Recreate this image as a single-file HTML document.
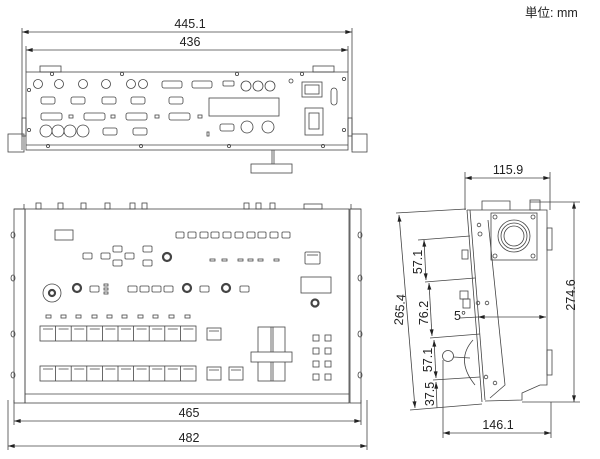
<!DOCTYPE html>
<html><head><meta charset="utf-8"><style>
html,body{margin:0;padding:0;background:#fff;width:600px;height:459px;overflow:hidden}
svg{display:block}
text{font-family:"Liberation Sans","Noto Sans CJK JP",sans-serif;fill:#222}
</style></head><body>
<svg width="600" height="459" viewBox="0 0 600 459" xmlns="http://www.w3.org/2000/svg">
<defs>
<marker id="a" viewBox="0 0 10 6" refX="10" refY="3" markerWidth="9" markerHeight="5" orient="auto-start-reverse"><path d="M0,0L10,3L0,6z" fill="#222"/></marker>
</defs>
<text x="525" y="17" font-size="12.5">単位: mm</text>

<g stroke="#444" stroke-width="0.8" fill="none">
<!-- TOP: rear view -->
<line x1="22" y1="28" x2="22" y2="150"/><line x1="352" y1="28" x2="352" y2="150"/>
<line x1="26" y1="46" x2="26" y2="72"/><line x1="348" y1="46" x2="348" y2="72"/>
<line x1="22" y1="32" x2="352" y2="32" marker-start="url(#a)" marker-end="url(#a)"/>
<line x1="26" y1="50" x2="348" y2="50" marker-start="url(#a)" marker-end="url(#a)"/>
<rect x="26" y="72" width="322" height="78"/>
<line x1="26" y1="145" x2="348" y2="145"/>
<rect x="40" y="66" width="21" height="6"/><rect x="313" y="66" width="21" height="6"/>
<rect x="8" y="134" width="16" height="18"/><rect x="352" y="134" width="15" height="18"/>
<rect x="22" y="118" width="4" height="18"/><rect x="348" y="118" width="4" height="18"/>
<line x1="272" y1="150" x2="272" y2="164"/><line x1="274" y1="150" x2="274" y2="164"/>
<rect x="251" y="164" width="41" height="9"/>
<g>
<circle cx="52" cy="74" r="1.6"/><circle cx="122" cy="74" r="1.6"/><circle cx="237" cy="74" r="1.6"/><circle cx="302" cy="74" r="1.6"/>
<circle cx="48" cy="146" r="1.6"/><circle cx="141" cy="146" r="1.6"/><circle cx="229" cy="146" r="1.6"/><circle cx="323" cy="146" r="1.6"/>
<circle cx="29" cy="90" r="1.6"/><circle cx="29" cy="130" r="1.6"/><circle cx="344" cy="79" r="1.6"/><circle cx="344" cy="130" r="1.6"/><circle cx="291" cy="81" r="2"/>
</g>
<g>
<circle cx="38" cy="84" r="4.5"/><circle cx="59" cy="84" r="4.5"/><circle cx="83" cy="84" r="4.5"/><circle cx="106" cy="84" r="4.5"/><circle cx="131" cy="84" r="4.5"/><circle cx="143" cy="84" r="4.5"/>
<circle cx="246" cy="86" r="5"/><circle cx="258" cy="86" r="5"/><circle cx="270" cy="86" r="5"/>
<circle cx="46" cy="131" r="6"/><circle cx="58" cy="131" r="6"/><circle cx="70" cy="131" r="6"/><circle cx="83" cy="131" r="6"/>
<circle cx="247" cy="127" r="6"/><circle cx="268" cy="127" r="6"/>
</g>
<g>
<rect x="162" y="81" width="20" height="7" rx="2"/><rect x="192" y="81" width="20" height="7" rx="2"/><rect x="223" y="81" width="11" height="5" rx="1"/>
<rect x="41" y="97" width="14" height="7" rx="2"/><rect x="71" y="97" width="14" height="7" rx="2"/><rect x="102" y="97" width="14" height="7" rx="2"/><rect x="131" y="97" width="14" height="7" rx="2"/><rect x="169" y="97" width="14" height="7" rx="2"/>
<rect x="41" y="113" width="21" height="7" rx="2"/><rect x="84" y="113" width="21" height="7" rx="2"/><rect x="126" y="113" width="21" height="7" rx="2"/><rect x="169" y="113" width="21" height="7" rx="2"/>
<rect x="69" y="115" width="4" height="3"/><rect x="111" y="115" width="4" height="3"/><rect x="155" y="115" width="4" height="3"/><rect x="198" y="115" width="4" height="3"/>
<rect x="103" y="128" width="14" height="7" rx="2"/><rect x="133" y="128" width="14" height="7" rx="2"/><rect x="220" y="124" width="14" height="7" rx="2"/>
<rect x="209" y="98" width="70" height="18"/>
<rect x="302" y="82" width="20" height="15"/><rect x="305" y="85" width="14" height="9"/>
<rect x="331" y="88" width="6" height="17" rx="3"/>
<rect x="305" y="108" width="18" height="27"/><rect x="309" y="113" width="10" height="16"/>
<rect x="207" y="132" width="2" height="4"/>
</g>

<!-- FRONT: top view -->
<line x1="8" y1="400" x2="8" y2="450"/><line x1="367" y1="400" x2="367" y2="450"/>
<line x1="14" y1="400" x2="14" y2="425"/><line x1="361" y1="400" x2="361" y2="425"/>
<line x1="14" y1="421" x2="361" y2="421" marker-start="url(#a)" marker-end="url(#a)"/>
<line x1="8" y1="446" x2="367" y2="446" marker-start="url(#a)" marker-end="url(#a)"/>
<rect x="25" y="209" width="324" height="194"/>
<line x1="25" y1="394" x2="349" y2="394"/>
<rect x="14" y="209" width="11" height="194"/><rect x="350" y="209" width="11" height="194"/>
<path d="M14,209 L24,209 L24,204"/><path d="M361,209 L351,209 L351,204"/>
<g>
<ellipse cx="13" cy="235" rx="2" ry="3"/><ellipse cx="13" cy="278" rx="2" ry="3"/><ellipse cx="13" cy="334" rx="2" ry="3"/><ellipse cx="13" cy="375" rx="2" ry="3"/>
<ellipse cx="360" cy="235" rx="2" ry="3"/><ellipse cx="360" cy="278" rx="2" ry="3"/><ellipse cx="360" cy="334" rx="2" ry="3"/><ellipse cx="360" cy="375" rx="2" ry="3"/>
</g>
<g>
<rect x="36" y="203" width="5" height="6"/><rect x="58" y="203" width="5" height="6"/><rect x="81" y="203" width="5" height="6"/><rect x="105" y="203" width="5" height="6"/><rect x="130" y="203" width="5" height="6"/><rect x="142" y="203" width="5" height="6"/>
<rect x="244" y="203" width="5" height="6"/><rect x="256" y="203" width="5" height="6"/><rect x="270" y="203" width="5" height="6"/><rect x="304" y="204" width="18" height="5"/>
</g>
<rect x="55" y="230" width="18" height="10"/>
<g>
<rect x="176" y="232" width="8" height="6" rx="1"/><rect x="188" y="232" width="8" height="6" rx="1"/><rect x="200" y="232" width="8" height="6" rx="1"/><rect x="211" y="232" width="8" height="6" rx="1"/><rect x="223" y="232" width="8" height="6" rx="1"/><rect x="235" y="232" width="8" height="6" rx="1"/><rect x="247" y="232" width="8" height="6" rx="1"/><rect x="258" y="232" width="8" height="6" rx="1"/><rect x="270" y="232" width="8" height="6" rx="1"/><rect x="282" y="232" width="8" height="6" rx="1"/>
<rect x="83" y="253" width="9" height="6" rx="1"/><rect x="101" y="253" width="9" height="6" rx="1"/><rect x="113" y="246" width="9" height="6" rx="1"/><rect x="113" y="260" width="9" height="6" rx="1"/><rect x="125" y="253" width="9" height="6" rx="1"/><rect x="143" y="246" width="9" height="6" rx="1"/><rect x="143" y="260" width="9" height="6" rx="1"/>
<rect x="90" y="286" width="9" height="6" rx="1"/><rect x="128" y="286" width="9" height="6" rx="1"/><rect x="140" y="286" width="9" height="6" rx="1"/><rect x="152" y="286" width="9" height="6" rx="1"/><rect x="164" y="286" width="9" height="6" rx="1"/><rect x="200" y="286" width="9" height="6" rx="1"/><rect x="240" y="286" width="9" height="6" rx="1"/>
<rect x="104" y="284" width="4" height="2"/><rect x="104" y="288" width="4" height="2"/><rect x="104" y="292" width="4" height="2"/>
<rect x="210" y="259" width="5" height="2"/><rect x="222" y="259" width="5" height="2"/><rect x="238" y="259" width="5" height="2"/><rect x="248" y="259" width="5" height="2"/><rect x="258" y="259" width="5" height="2"/><rect x="274" y="259" width="5" height="2"/>
<rect x="46" y="315" width="5" height="3"/><rect x="61" y="315" width="5" height="3"/><rect x="76" y="315" width="5" height="3"/><rect x="92" y="315" width="5" height="3"/><rect x="107" y="315" width="5" height="3"/><rect x="122" y="315" width="5" height="3"/><rect x="138" y="315" width="5" height="3"/><rect x="153" y="315" width="5" height="3"/><rect x="169" y="315" width="5" height="3"/><rect x="185" y="315" width="5" height="3"/>
<rect x="305" y="252" width="15" height="12" rx="1"/><line x1="307" y1="255" x2="318" y2="255"/>
<rect x="301" y="277" width="30" height="16"/>
</g>
<g stroke-width="2.2">
<circle cx="167" cy="257" r="4"/><circle cx="77" cy="288" r="4"/><circle cx="187" cy="288" r="4"/><circle cx="226" cy="288" r="4"/><circle cx="315" cy="303" r="3.5"/><circle cx="52" cy="293" r="3"/>
</g>
<circle cx="52" cy="293" r="9"/>
<!-- keys -->
<g>
<rect x="40" y="326" width="156" height="15"/><rect x="40" y="366" width="156" height="15"/>
<path d="M55.6,326v15M71.2,326v15M86.8,326v15M102.4,326v15M118,326v15M133.6,326v15M149.2,326v15M164.8,326v15M180.4,326v15"/>
<path d="M55.6,366v15M71.2,366v15M86.8,366v15M102.4,366v15M118,366v15M133.6,366v15M149.2,366v15M164.8,366v15M180.4,366v15"/>
<path d="M43,329h10M58.6,329h10M74.2,329h10M89.8,329h10M105.4,329h10M121,329h10M136.6,329h10M152.2,329h10M167.8,329h10M183.4,329h10"/>
<path d="M43,369h10M58.6,369h10M74.2,369h10M89.8,369h10M105.4,369h10M121,369h10M136.6,369h10M152.2,369h10M167.8,369h10M183.4,369h10"/>
<rect x="207" y="328" width="14" height="12"/><rect x="207" y="367" width="14" height="13"/><rect x="229" y="367" width="14" height="13"/>
<path d="M209,331h10M209,370h10M231,370h10"/>
<rect x="258" y="327" width="27" height="54"/><line x1="271" y1="327" x2="271" y2="381"/><line x1="273" y1="327" x2="273" y2="381"/>
<rect x="251" y="352" width="41" height="10" fill="#fff"/>
<rect x="313" y="335" width="6" height="6"/><rect x="325" y="335" width="6" height="6"/><rect x="313" y="348" width="6" height="6"/><rect x="325" y="348" width="6" height="6"/><rect x="313" y="361" width="6" height="6"/><rect x="325" y="361" width="6" height="6"/><rect x="313" y="374" width="6" height="6"/><rect x="325" y="374" width="6" height="6"/>
</g>

<!-- SIDE -->
<line x1="465" y1="172" x2="465" y2="210"/><line x1="550" y1="172" x2="550" y2="210"/>
<line x1="465" y1="178" x2="550" y2="178" marker-start="url(#a)" marker-end="url(#a)"/>
<line x1="530" y1="202" x2="580" y2="202"/><line x1="522" y1="402" x2="580" y2="402"/>
<line x1="574" y1="202" x2="574" y2="402" marker-start="url(#a)" marker-end="url(#a)"/>
<line x1="443" y1="360" x2="443" y2="438"/><line x1="551" y1="402" x2="551" y2="438"/>
<line x1="443" y1="433" x2="551" y2="433" marker-start="url(#a)" marker-end="url(#a)"/>
<line x1="396" y1="213" x2="466" y2="209"/><line x1="410" y1="410" x2="482" y2="404"/>
<line x1="399" y1="215" x2="415" y2="408" marker-start="url(#a)" marker-end="url(#a)"/>
<line x1="418" y1="240" x2="470" y2="236"/><line x1="425" y1="282" x2="475" y2="278"/>
<line x1="430" y1="338" x2="480" y2="334"/><line x1="433" y1="380" x2="480" y2="377"/>
<line x1="424" y1="240" x2="426" y2="280" marker-start="url(#a)" marker-end="url(#a)"/>
<line x1="429" y1="283" x2="432" y2="336" marker-start="url(#a)" marker-end="url(#a)"/>
<line x1="434" y1="340" x2="436" y2="378" marker-start="url(#a)" marker-end="url(#a)"/>
<line x1="436" y1="382" x2="437" y2="408" marker-start="url(#a)"/>
<line x1="460" y1="318" x2="478" y2="317"/>
<line x1="478" y1="317" x2="546" y2="317" marker-start="url(#a)" marker-end="url(#a)"/>
<!-- panel -->
<path d="M467,210 L482,402"/><path d="M470,210 L485,400"/>
<path d="M467,210 L547,210 L547,385 L540,385 L522,393 L522,400 L485,401"/>
<path d="M488,220 L505,385 L490,398"/>
<path d="M482,210 L482,201 L510,201 L510,210"/><rect x="530" y="200" width="10" height="10"/>
<rect x="547" y="228" width="5" height="22"/><rect x="547" y="350" width="5" height="25"/>
<rect x="491" y="213" width="46" height="47"/>
<circle cx="514" cy="236" r="16"/><circle cx="514" cy="236" r="13"/><circle cx="514" cy="236" r="10"/>
<circle cx="495" cy="217" r="2"/><circle cx="533" cy="217" r="2"/><circle cx="495" cy="256" r="2"/><circle cx="533" cy="256" r="2"/>
<circle cx="480" cy="234" r="2"/><circle cx="479" cy="225" r="1.8"/><circle cx="478" cy="303" r="1.8"/><circle cx="487" cy="303" r="1.8"/><circle cx="486" cy="377" r="1.8"/><circle cx="495" cy="383" r="1.8"/>
<rect x="462" y="250" width="6" height="9"/><rect x="460" y="291" width="8" height="8"/><rect x="463" y="299" width="7" height="9"/>
<path d="M473,340 Q455,360 475,385"/>
<circle cx="448" cy="356" r="5.5"/><line x1="453" y1="357" x2="470" y2="358"/>
</g>

<g font-size="12.5">
<text x="190" y="28" text-anchor="middle">445.1</text>
<text x="190" y="46" text-anchor="middle">436</text>
<text x="189" y="417" text-anchor="middle">465</text>
<text x="189" y="442" text-anchor="middle">482</text>
<text x="508" y="174" text-anchor="middle">115.9</text>
<text x="498" y="429" text-anchor="middle">146.1</text>
<text x="460" y="320" text-anchor="middle">5°</text>
<text transform="translate(575,295) rotate(-90)" text-anchor="middle">274.6</text>
<text transform="translate(404,310) rotate(-85)" text-anchor="middle">265.4</text>
<text transform="translate(422,262) rotate(-90)" text-anchor="middle">57.1</text>
<text transform="translate(428,313) rotate(-90)" text-anchor="middle">76.2</text>
<text transform="translate(432,360) rotate(-90)" text-anchor="middle">57.1</text>
<text transform="translate(434,394) rotate(-90)" text-anchor="middle">37.5</text>
</g>
</svg>
</body></html>
